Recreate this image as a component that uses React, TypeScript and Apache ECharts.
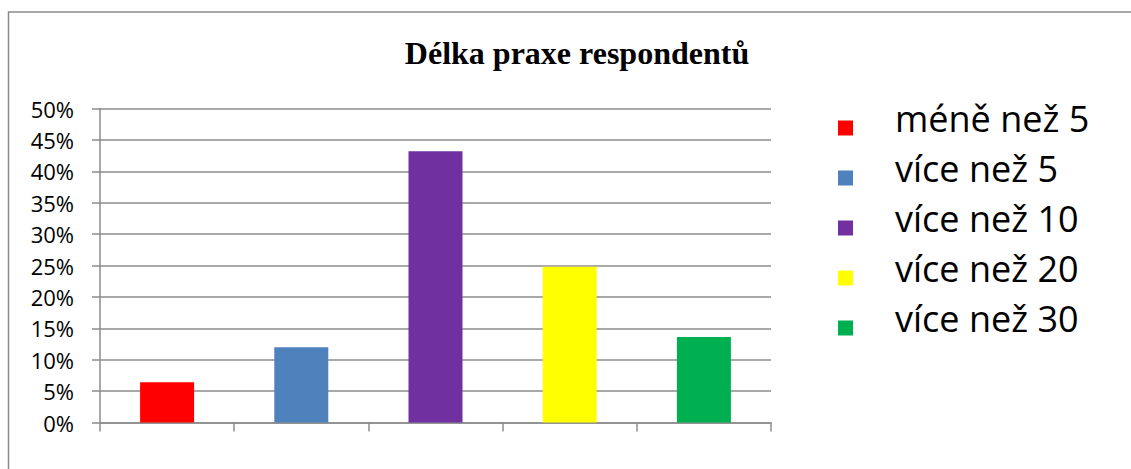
import { useEffect, useRef } from "react";
import * as echarts from "echarts";

const title = "Délka praxe respondentů";
const categories = ["méně než 5", "více než 5", "více než 10", "více než 20", "více než 30"];
const values = [6.4, 12.0, 43.2, 24.8, 13.6];
const colors = ["#FF0000", "#4F81BD", "#7030A0", "#FFFF00", "#00B050"];
const yMin = 0;
const yMax = 50;
const yStep = 5;

const GRAY = "#8c8c8c";
const SANS = "'Open Sans', Lato, sans-serif";

export default function App() {
  const ref = useRef<HTMLDivElement>(null);
  useEffect(() => {
    if (!ref.current) return;
    const chart = echarts.init(ref.current, null, { renderer: "svg" });
    const series = categories.map((name, i) => ({
      name,
      type: "bar",
      barWidth: 54,
      barGap: "-100%",
      itemStyle: { color: colors[i] },
      data: categories.map((_, j) => (j === i ? values[i] : "-")),
    }));
    chart.setOption({
      animation: false,
      backgroundColor: "#ffffff",
      title: {
        text: title,
        left: 572,
        top: 32,
        textAlign: "center",
        textStyle: {
          fontFamily: "'Liberation Serif', 'Times New Roman', serif",
          fontWeight: "bold",
          fontSize: 32,
          color: "#000",
        },
      },
      legend: {
        orient: "vertical",
        left: 838,
        top: 100,
        padding: 0,
        itemWidth: 15,
        itemHeight: 35,
        itemGap: 14,
        icon: "path://M0,0M0,20h15v15h-15z",
        data: categories,
        textStyle: {
          fontFamily: SANS,
          fontSize: 36,
          lineHeight: 36,
          color: "#000",
          padding: [0, 0, 0, 37],
        },
      },
      grid: { left: 100, right: 360, top: 108.5, bottom: 46.5 },
      xAxis: {
        type: "category",
        data: categories,
        axisLine: { show: true, lineStyle: { color: GRAY, width: 1.5 } },
        axisTick: { show: true, length: 9, lineStyle: { color: GRAY, width: 1.5 } },
        axisLabel: { show: false },
        splitLine: { show: false },
      },
      yAxis: {
        type: "value",
        min: yMin,
        max: yMax,
        interval: yStep,
        axisLine: { show: true, lineStyle: { color: GRAY, width: 1.5 } },
        axisTick: { show: true, length: 8, lineStyle: { color: GRAY, width: 1.5 } },
        axisLabel: {
          formatter: "{value}%",
          margin: 26,
          fontFamily: SANS,
          fontSize: 22,
          color: "#000",
        },
        splitLine: { show: true, lineStyle: { color: GRAY, width: 1.5 } },
      },
      graphic: [
        {
          type: "rect",
          silent: true,
          z: -1,
          shape: { x: 8.5, y: 12, width: 1200, height: 470 },
          style: { fill: "none", stroke: GRAY, lineWidth: 1.5 },
        },
      ],
      series,
    });
    return () => chart.dispose();
  }, []);
  return (
    <div
      ref={ref}
      style={{ position: "fixed", left: 0, top: 0, width: 1131, height: 469 }}
    />
  );
}
